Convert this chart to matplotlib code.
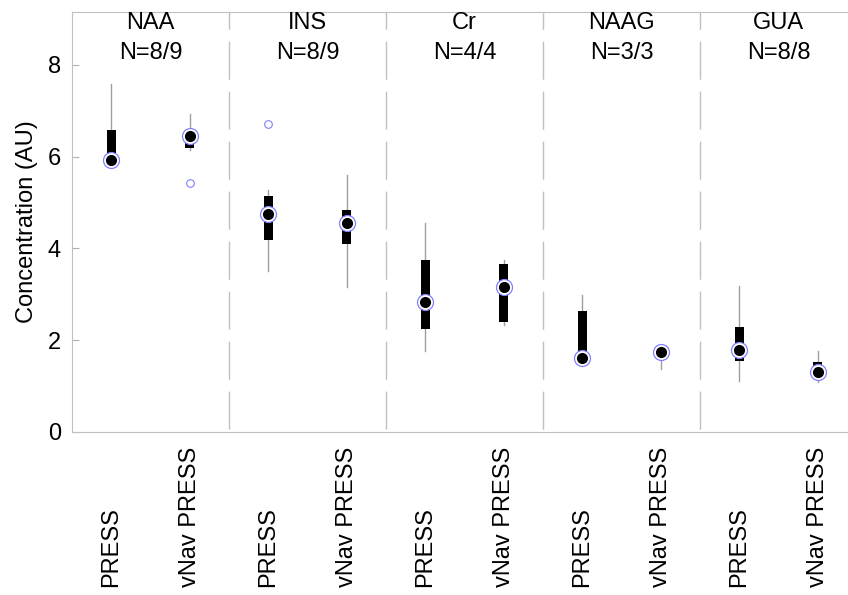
import matplotlib.pyplot as plt

plt.rcParams['font.family'] = ['Liberation Sans', 'DejaVu Sans']

# metabolite groups, two acquisitions each
groups = ['NAA', 'INS', 'Cr', 'NAAG', 'GUA']
counts = ['N=8/9', 'N=8/9', 'N=4/4', 'N=3/3', 'N=8/8']
labels = ['PRESS', 'vNav PRESS'] * 5

# box statistics (PRESS, vNav PRESS per group)
whis_lo = [5.93, 6.15, 3.50, 3.15, 1.76, 2.33, 1.61, 1.38, 1.12, 1.09]
q1 = [5.93, 6.19, 4.18, 4.10, 2.24, 2.39, 1.61, 1.58, 1.55, 1.27]
medians = [5.93, 6.44, 4.76, 4.56, 2.83, 3.15, 1.61, 1.75, 1.79, 1.31]
q3 = [6.57, 6.48, 5.14, 4.83, 3.74, 3.65, 2.63, 1.78, 2.29, 1.52]
whis_hi = [7.59, 6.93, 5.27, 5.59, 4.56, 3.74, 2.98, 1.85, 3.17, 1.76]
outliers = [[], [5.43], [6.72], [], [], [], [], [], [], []]

positions = list(range(1, len(labels) + 1))

fig = plt.figure(figsize=(8.48, 5.95), dpi=100)
ax = fig.add_axes([72 / 848, (595 - 432) / 595, 785 / 848, 420 / 595])

stats = []
for i in range(len(labels)):
    stats.append(dict(med=medians[i], q1=q1[i], q3=q3[i],
                      whislo=whis_lo[i], whishi=whis_hi[i], fliers=outliers[i]))

ax.bxp(stats, positions=positions, widths=0.12, showcaps=False, patch_artist=True,
       boxprops=dict(facecolor='black', edgecolor='black', linewidth=0, zorder=3),
       whiskerprops=dict(color='#a0a0a0', linewidth=1, zorder=2),
       medianprops=dict(visible=False),
       flierprops=dict(marker='o', markerfacecolor='none', markeredgecolor='#8080ff',
                       markersize=5.5, markeredgewidth=0.8))

# median markers: black dot in a blue ring
ax.plot(positions, medians, 'o', ms=11.5, mfc='white', mec='#8080ff', mew=0.9, ls='none', zorder=4)
ax.plot(positions, medians, 'o', ms=7, color='black', ls='none', zorder=5)

# dashed separators between groups, dash pattern starting at the top
for k in range(1, len(groups)):
    ax.plot([2 * k + 0.5, 2 * k + 0.5], [1, 0], transform=ax.get_xaxis_transform(),
            color='#c0c0c0', linewidth=1, linestyle=(15, (27.4, 8.6)), zorder=1)

for k, (g, n) in enumerate(zip(groups, counts)):
    ax.text(2 * k + 1.5, 0.973, g, transform=ax.get_xaxis_transform(),
            ha='center', va='center', fontsize=17)
    ax.text(2 * k + 1.5, 0.903, n, transform=ax.get_xaxis_transform(),
            ha='center', va='center', fontsize=17)

ax.set_xlim(0.5, 10.5)
ax.set_ylim(0, 9.15)
ax.set_yticks([0, 2, 4, 6, 8])
ax.set_xticks([])
for p, lab in zip(positions, labels):
    ax.text(p, -0.37, lab, transform=ax.get_xaxis_transform(), rotation=90,
            ha='center', va='bottom', fontsize=17)

ax.set_ylabel('Concentration (AU)', fontsize=17, va='center')
ax.yaxis.set_label_coords(-45 / 785, 0.5)
ax.tick_params(axis='y', direction='in', length=5, color='#b0b0b0', labelsize=17, pad=8)
for s in ax.spines.values():
    s.set_color('#c0c0c0')

plt.savefig('out.png', dpi=100)
